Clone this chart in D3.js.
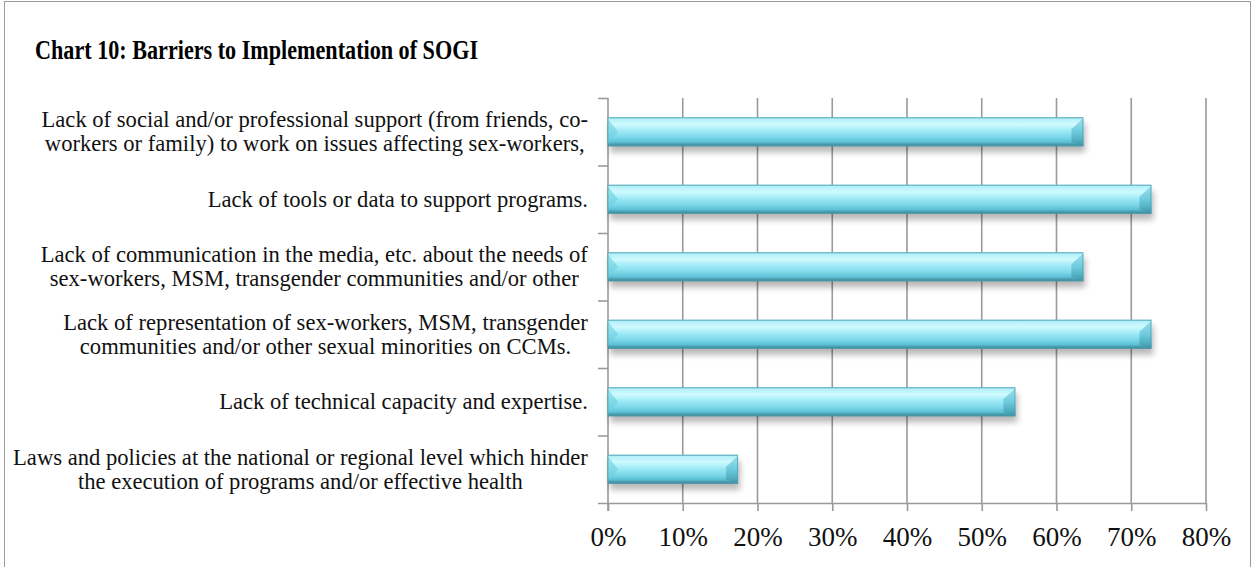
<!DOCTYPE html>
<html><head><meta charset="utf-8">
<script src="https://cdn.jsdelivr.net/npm/d3@7"></script>
<style>html,body{margin:0;padding:0;background:#fff;}svg{display:block;}</style>
</head><body>
<svg id="chart" width="1252" height="567"></svg>
<script>
const title = "Chart 10: Barriers to Implementation of SOGI";
const categories = [
  ["Lack of social and/or professional support (from friends, co-", "workers or family) to work on issues affecting sex-workers,"],
  ["Lack of tools or data to support programs."],
  ["Lack of communication in the media, etc. about the needs of", "sex-workers, MSM, transgender communities and/or other"],
  ["Lack of representation of sex-workers, MSM, transgender", "communities and/or other sexual minorities on CCMs."],
  ["Lack of technical capacity and expertise."],
  ["Laws and policies at the national or regional level which hinder", "the execution of programs and/or effective health"]
];
const values = [0.636, 0.727, 0.636, 0.727, 0.545, 0.174];
const tickValues = [0, 0.1, 0.2, 0.3, 0.4, 0.5, 0.6, 0.7, 0.8];

const svg = d3.select("#chart");
const pLeft = 608, pRight = 1206, pTop = 98, pBottom = 503;
const x = d3.scaleLinear().domain([0, 0.8]).range([pLeft, pRight]);
const y = d3.scaleBand().domain(d3.range(categories.length)).range([pTop, pBottom]).paddingInner(0.57).paddingOuter(0.285);
const yb = d3.scaleBand().domain(d3.range(categories.length)).range([pTop, pBottom]);

// outer border
svg.append("rect").attr("x", 4.5).attr("y", 1.5).attr("width", 1246).attr("height", 570)
  .attr("fill", "#fff").attr("stroke", "#9c9c9c").attr("stroke-width", 1);

const defs = svg.append("defs");
const g1 = defs.append("linearGradient").attr("id", "barGrad").attr("x1", 0).attr("y1", 0).attr("x2", 0).attr("y2", 1);
[[0, "#86cbd8"], [0.06, "#b4f0f9"], [0.25, "#cffaff"], [0.45, "#a2ecf7"], [0.7, "#7ad6e8"], [0.86, "#5cc0d5"], [0.92, "#4a9fb0"], [1, "#3d8797"]]
  .forEach(([o, c]) => g1.append("stop").attr("offset", o).attr("stop-color", c));
const g2 = defs.append("linearGradient").attr("id", "endGrad").attr("x1", 0).attr("y1", 0).attr("x2", 0).attr("y2", 1);
[[0, "#8ad6e3"], [0.5, "#62c4d8"], [1, "#3f95a7"]]
  .forEach(([o, c]) => g2.append("stop").attr("offset", o).attr("stop-color", c));
const f = defs.append("filter").attr("id", "shadow").attr("x", "-5%").attr("y", "-50%").attr("width", "110%").attr("height", "200%");
f.append("feGaussianBlur").attr("stdDeviation", 3);

// gridlines
svg.append("g").selectAll("line").data(tickValues.slice(1)).join("line")
  .attr("x1", d => x(d)).attr("x2", d => x(d)).attr("y1", pTop).attr("y2", pBottom)
  .attr("stroke", "#9a9a9a").attr("stroke-width", 1.6);

// x axis
const xAxis = d3.axisBottom(x).tickValues(tickValues).tickFormat(d3.format(".0%")).tickSize(8).tickPadding(16);
const gx = svg.append("g").attr("transform", `translate(0,${pBottom})`).call(xAxis);
gx.select(".domain").attr("d", `M${pLeft - 10},0.5H${pRight}`).attr("stroke", "#9a9a9a").attr("stroke-width", 1.6);
gx.selectAll(".tick line").attr("stroke", "#9a9a9a").attr("stroke-width", 1.6);
gx.selectAll(".tick text").attr("font-family", "'Liberation Serif', serif").attr("font-size", 27).attr("fill", "#111");

// y axis (left line with ticks at category boundaries)
const gy = svg.append("g");
gy.append("line").attr("x1", pLeft).attr("x2", pLeft).attr("y1", pTop).attr("y2", pBottom + 8)
  .attr("stroke", "#9a9a9a").attr("stroke-width", 1.6);
gy.selectAll("line.tk").data(d3.range(categories.length)).join("line").attr("class", "tk")
  .attr("x1", pLeft - 10).attr("x2", pLeft).attr("y1", d => yb(d) + 0.5).attr("y2", d => yb(d) + 0.5)
  .attr("stroke", "#9a9a9a").attr("stroke-width", 1.6);

// bars
const bars = svg.append("g").selectAll("g").data(values).join("g");
bars.append("rect").attr("x", x(0) + 2).attr("y", (d, i) => y(i) + 6)
  .attr("width", d => x(d) - x(0)).attr("height", y.bandwidth())
  .attr("fill", "#000").attr("opacity", 0.28).attr("filter", "url(#shadow)");
bars.append("rect").attr("x", x(0)).attr("y", (d, i) => y(i))
  .attr("width", d => x(d) - x(0)).attr("height", y.bandwidth())
  .attr("fill", "url(#barGrad)");
bars.append("path").attr("d", (d, i) => {
  const x1 = x(d), y0 = y(i), h = y.bandwidth();
  return `M${x1 - 12},${y0 + 12}L${x1},${y0 + 1}L${x1},${y0 + h - 1}L${x1 - 12},${y0 + h - 4}Z`;
}).attr("fill", "url(#endGrad)").attr("opacity", 0.8);
bars.append("path").attr("d", (d, i) => {
  const x0 = x(0), y0 = y(i), h = y.bandwidth();
  return `M${x0},${y0 + 2}L${x0 + 10},${y0 + h / 2}L${x0},${y0 + h - 3}Z`;
}).attr("fill", "#6fcfe0").attr("opacity", 0.6);
bars.append("rect").attr("x", x(0)).attr("y", (d, i) => y(i) + 0.5)
  .attr("width", d => x(d) - x(0) - 0.5).attr("height", y.bandwidth() - 1)
  .attr("fill", "none").attr("stroke", "#4c9fb0").attr("stroke-width", 1).attr("opacity", 0.7);

// category labels
const labels = svg.append("g").attr("font-family", "'Liberation Serif', serif").attr("font-size", 22.6).attr("fill", "#111").attr("text-anchor", "middle");
categories.forEach((lines, i) => {
  const cy = yb(i) + yb.bandwidth() / 2;
  const lh = 24;
  const t = labels.append("text");
  lines.forEach((ln, j) => {
    t.append("tspan").attr("x", 0).attr("y", cy + (j - (lines.length - 1) / 2) * lh + 7.5).text(ln);
  });
  const w = t.node().getBBox().width;
  t.attr("transform", `translate(${588 - w / 2},0)`);
});

// title
svg.append("text").attr("x", 35).attr("y", 59).attr("font-family", "'Liberation Serif', serif")
  .attr("font-weight", "bold").attr("font-size", 27).attr("textLength", 443).attr("lengthAdjust", "spacingAndGlyphs")
  .attr("fill", "#000").text(title);
</script>
</body></html>
